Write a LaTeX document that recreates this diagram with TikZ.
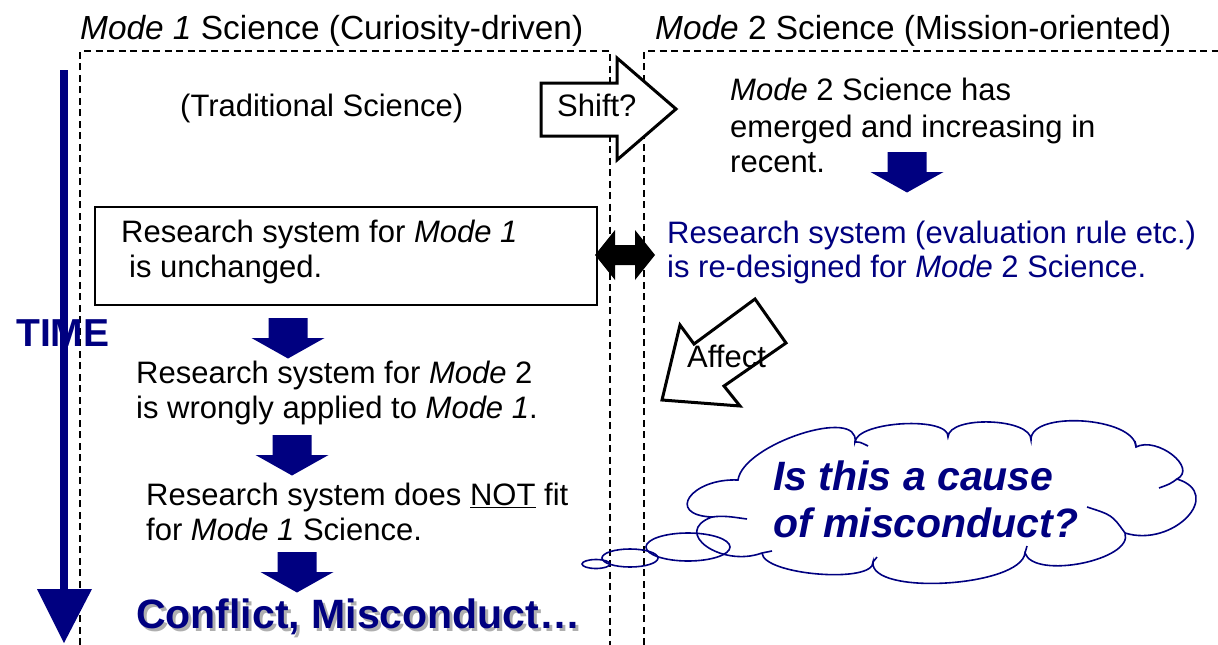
\documentclass[tikz,border=0pt]{standalone}
\usepackage{fontspec}
\setmainfont{Liberation Sans}
\usetikzlibrary{calc}
\definecolor{navy}{RGB}{0,0,128}
\definecolor{shadowgray}{RGB}{175,175,175}
\begin{document}
\begin{tikzpicture}[x=1pt,y=-1pt,
  txt/.style={anchor=base west, inner sep=0pt, font=\fontsize{31}{37}\selectfont},
  ttl/.style={anchor=base west, inner sep=0pt, font=\fontsize{33.4}{40}\selectfont},
  big/.style={anchor=base west, inner sep=0pt, font=\fontsize{41}{48}\selectfont\bfseries},
  dsh/.style={dash pattern=on 7pt off 4.5pt, line width=1.3pt},
  outlinearrow/.style={draw=black, fill=white, line width=3pt, line join=miter},
  cloudline/.style={draw=navy, line width=1.6pt},
  downblk/.pic={\fill[navy] (-19.5,0) -- (19.5,0) -- (19.5,20) -- (36.5,20) -- (0,40.5) -- (-36.5,20) -- (-19.5,20) -- cycle;}]
\useasboundingbox (0,0) rectangle (1218,645);

% dashed frames
\draw[dsh] (80,645) -- (80,51) -- (610,51) -- (610,645);
\draw[dsh] (644,645) -- (644,51) -- (1218,51);

% titles
\node[ttl] (tl) at (80,39) {\textit{Mode 1} Science (Curiosity-driven)};
\node[ttl] (tr) at (655,39) {\textit{Mode} 2 Science (Mission-oriented)};

% TIME arrow
\draw[navy, line width=8pt] (64,70) -- (64,592);
\fill[navy] (37,589) -- (92,589) -- (64,643) -- cycle;
\node[anchor=base west, inner sep=0pt, text=navy, font=\fontsize{39}{46}\selectfont\bfseries] (time) at (16,346) {TIME};

% shift arrow
\draw[outlinearrow] (541,83) -- (617,83) -- (617,58) -- (676,109) -- (617,160) -- (617,136) -- (541,136) -- cycle;
\node[txt] (shift) at (557,116) {Shift?};

% left column
\node[txt] (trad) at (180,116) {(Traditional Science)};
\node[draw, line width=1.5pt, anchor=north west, inner sep=0pt, minimum width=502pt, minimum height=98pt] (box) at (94,206) {};
\node[txt] (b1) at (121,242) {Research system for \textit{Mode 1}};
\node[txt] (b2) at (129,277) {is unchanged.};
\pic at (288,318) {downblk};
\node[txt] (w1) at (136,383) {Research system for \textit{Mode} 2};
\node[txt] (w2) at (136,418) {is wrongly applied to \textit{Mode 1}.};
\pic at (292,435) {downblk};
\node[txt] (n1) at (146,505) {Research system does \underline{NOT} fit};
\node[txt] (n2) at (146,540) {for \textit{Mode 1} Science.};
\pic at (297,552) {downblk};
\node[big, text=shadowgray] (conflictshadow) at (139,631) {Conflict, Misconduct…};
\node[big, text=navy] (conflict) at (136,628) {Conflict, Misconduct…};

% right column
\node[txt] (m2a) at (730,100) {\textit{Mode} 2 Science has};
\node[txt] (m2b) at (730,137) {emerged and increasing in};
\node[txt] (m2c) at (730,172) {recent.};
\pic at (907,152) {downblk};
\node[txt, text=navy] (r1) at (667,243) {Research system (evaluation rule etc.)};
\node[txt, text=navy] (r2) at (667,277) {is re-designed for \textit{Mode} 2 Science.};

% double arrow
\fill[black] (595,255) -- (615,230) -- (615,245) -- (635,245) -- (635,230) -- (655,255) -- (635,280) -- (635,265) -- (615,265) -- (615,280) -- cycle;

% affect arrow
\draw[outlinearrow] (662,400) -- (680,325) -- (694,344) -- (755,299) -- (786,343) -- (724,386) -- (740,406) -- cycle;
\node[txt] (affect) at (687,367) {Affect};

% thought bubbles
\draw[cloudline] (596,564) ellipse [x radius=14pt, y radius=4.5pt];
\draw[cloudline] (630,558) ellipse [x radius=28pt, y radius=9pt];
\draw[cloudline] (688,547) ellipse [x radius=42pt, y radius=14pt];

% cloud
\draw[cloudline] (712,517)
  .. controls (665,515) and (691,478) .. (738,480)
  .. controls (743,444) and (860,406) .. (855,442)
  .. controls (857,421) and (950,416) .. (948,437)
  .. controls (949,415) and (1032,418) .. (1031,440)
  .. controls (1030,410) and (1135,417) .. (1136,447)
  .. controls (1157,436) and (1198,468) .. (1177,479)
  .. controls (1225,494) and (1173,548) .. (1125,533)
  .. controls (1134,560) and (1034,580) .. (1025,553)
  .. controls (1021,587) and (869,596) .. (873,562)
  .. controls (874,584) and (763,575) .. (762,553)
  .. controls (721,568) and (671,532) .. (712,517) -- cycle;
\draw[cloudline] (712,517) .. controls (725,515) and (738,518) .. (747,519);
\draw[cloudline] (855,442) .. controls (860,442) .. (868,446);
\draw[cloudline] (1177,479) .. controls (1170,484) .. (1159,488);
\draw[cloudline] (1125,533) .. controls (1112,515) .. (1087,507);
\draw[cloudline] (762,553) -- (772,551);
\draw[cloudline] (1025,553) -- (1027,546);
\draw[cloudline] (873,562) -- (877,557);
\draw[cloudline] (1136,447) -- (1135,441);
\node[anchor=base west, inner sep=0pt, text=navy, font=\fontsize{41}{48}\selectfont\bfseries\itshape] (q1) at (773,490) {Is this a cause};
\node[anchor=base west, inner sep=0pt, text=navy, font=\fontsize{41}{48}\selectfont\bfseries\itshape] (q2) at (773,537) {of misconduct?};
\end{tikzpicture}
\end{document}
